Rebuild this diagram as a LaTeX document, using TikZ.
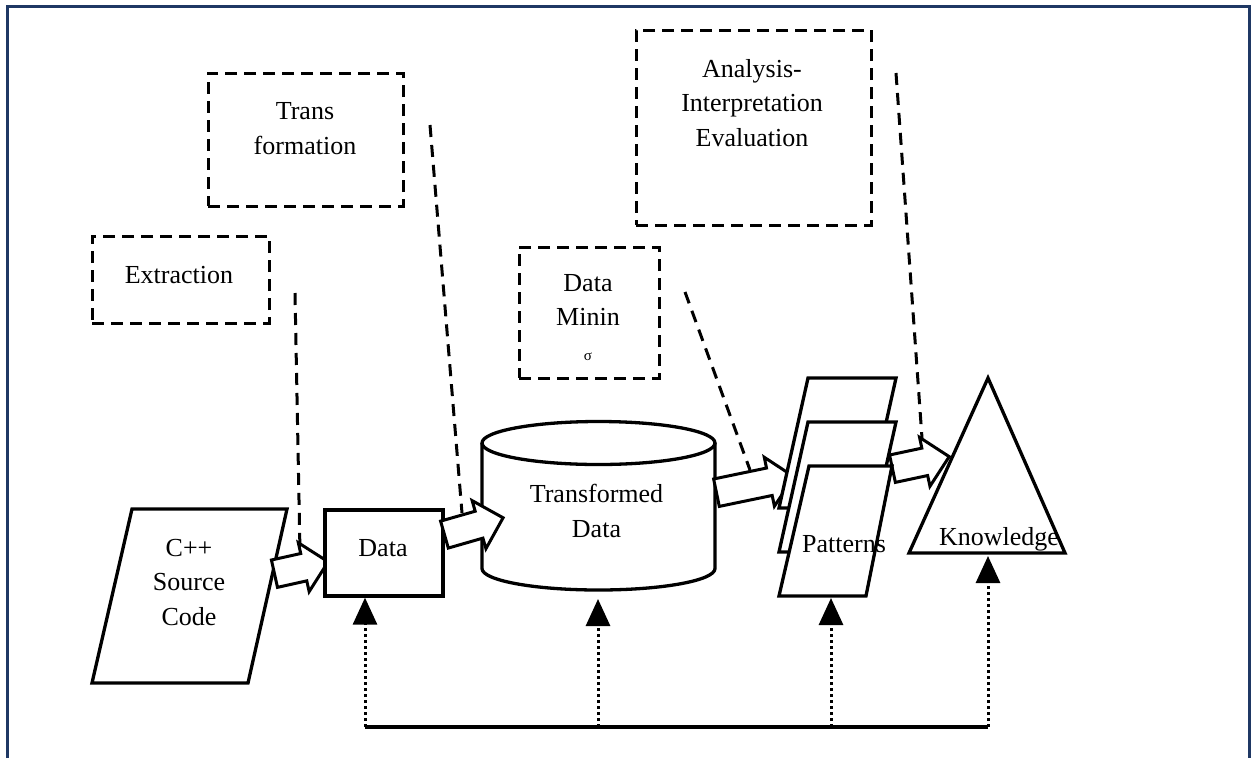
\documentclass[tikz,border=0pt]{standalone}
\usepackage{fontspec}
\setmainfont{Liberation Serif}
\usetikzlibrary{arrows.meta,shapes.arrows}
\definecolor{framenavy}{HTML}{1F3864}

\begin{document}
\begin{tikzpicture}[x=1pt, y=-1pt,
    txt/.style={font=\fontsize{26}{34.5}\selectfont, align=center, anchor=base, inner sep=0pt},
    notebox/.style={draw, line width=3pt, dash pattern=on 12pt off 7pt, inner sep=0pt},
    leader/.style={line width=3pt, dash pattern=on 12pt off 8pt},
    solidbox/.style={draw, line width=3.3pt, fill=white, inner sep=0pt},
    outline/.style={draw, line width=3.3pt, fill=white, line join=miter},
    blockarrow/.style={single arrow, draw, fill=white, line width=3pt, anchor=tail,
        inner xsep=0pt, inner ysep=12.5pt, single arrow head extend=11pt},
    fback/.style={line width=3pt, dash pattern=on 3pt off 3pt,
        -{Triangle[length=27pt, width=24pt]}}]

    % Page and frame
    \fill[white] (0,0) rectangle (1252,758);
    \useasboundingbox (0,0) rectangle (1252,758);
    \draw[framenavy, line width=3pt] (7,758) -- (7,6.5) -- (1249,6.5) -- (1249,758);

    % Draw dashed boxes for the steps
    \node[notebox, minimum width=177, minimum height=87] (extbox) at (180.5,279.5) {};
    \node[txt] (exttxt) at (179,283) {Extraction};

    \node[notebox, minimum width=195, minimum height=133] (trbox) at (305.5,139.5) {};
    \node[txt] (trtxt) at (305,154) {Trans\\formation};

    \node[notebox, minimum width=140, minimum height=131] (dmbox) at (589,312.5) {};
    \node[txt] (dmtxt) at (588,360) {Data\\Minin\\{\fontsize{15}{15}\selectfont σ}};

    \node[notebox, minimum width=235, minimum height=195] (anbox) at (753.5,127.5) {};
    \node[txt] (antxt) at (752,146) {Analysis-\\Interpretation\\Evaluation};

    % Draw dashed leaders from the boxes to the arrows
    \coordinate (ext0) at (295,293);
    \coordinate (ext1) at (300,552);
    \coordinate (tr0) at (430,125);
    \coordinate (tr1) at (462,513);
    \coordinate (dm0) at (685,292);
    \coordinate (dm1) at (750,470);
    \coordinate (an0) at (896,73);
    \coordinate (an1) at (922,438);
    \draw[leader] (ext0) -- (ext1);
    \draw[leader] (tr0) -- (tr1);
    \draw[leader] (dm0) -- (dm1);
    \draw[leader] (an0) -- (an1);

    % Draw source code and data
    \draw[outline] (132,509) -- (287,509) -- (248,683) -- (92,683) -- cycle;
    \node[txt] (cpptxt) at (189,625) {C++\\Source\\Code};
    \node[blockarrow, minimum height=55, rotate=12.5] (arr1) at (273,574) {};
    \node[solidbox, minimum width=118, minimum height=86] (databox) at (384,553) {};
    \node[txt] (datatxt) at (383,556) {Data};

    % Draw cylinder for transformed data
    \fill[white] (482,443) -- (482,568.5)
        arc[start angle=180, end angle=360, x radius=116.5pt, y radius=21.5pt]
        -- (715,443) -- cycle;
    \draw[line width=3.3pt] (482,443) -- (482,568.5)
        arc[start angle=180, end angle=360, x radius=116.5pt, y radius=21.5pt]
        -- (715,443);
    \draw[outline] (598.5,443) ellipse [x radius=116.5pt, y radius=21.5pt];
    \node[txt] (tdtxt) at (596.5,537) {Transformed\\Data};
    \node[blockarrow, minimum height=61, rotate=16] (arr2) at (443,535) {};

    % Draw arrows to patterns and knowledge
    \node[blockarrow, minimum height=79, rotate=11.7] (arr3) at (715,493) {};
    \node[blockarrow, minimum height=58, rotate=12] (arr4) at (891,469) {};

    % Draw stacked patterns
    \draw[outline] (808,378) -- (896,378) -- (867,508) -- (779,508) -- cycle;
    \draw[outline] (808,422) -- (896,422) -- (867,552) -- (779,552) -- cycle;
    \draw[outline] (809,466) -- (892,466) -- (866,596) -- (779,596) -- cycle;
    \node[txt] (pattxt) at (844,552) {Patterns};

    % Draw knowledge triangle
    \draw[outline] (988,378) -- (1065,553) -- (909,553) -- cycle;
    \node[txt] (kntxt) at (999,545) {Knowledge};

    % Draw feedback line
    \coordinate (fbA) at (365,727);
    \coordinate (fbB) at (598,727);
    \coordinate (fbC) at (831,727);
    \coordinate (fbD) at (988,727);
    \coordinate (cylbot) at (598,599);
    \coordinate (patbot) at (831,598);
    \coordinate (knbot) at (988,556);
    \draw[line width=3.5pt] (fbA) -- (fbD);
    \draw[fback] (fbA) -- (fbA |- databox.south);
    \draw[fback] (fbB) -- (cylbot);
    \draw[fback] (fbC) -- (patbot);
    \draw[fback] (fbD) -- (knbot);

\end{tikzpicture}
\end{document}
